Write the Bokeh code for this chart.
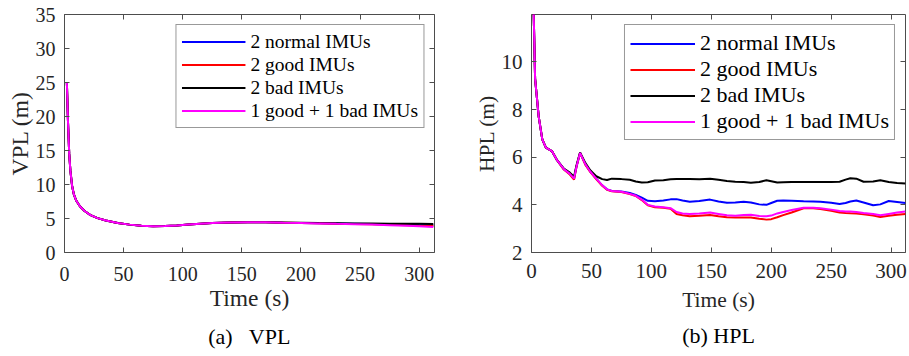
from bokeh.plotting import figure
from bokeh.models import Range1d, FixedTicker, LinearAxis, Title
from bokeh.layouts import row
from bokeh.embed import file_html
from bokeh.resources import INLINE

FONT = "Liberation Serif"

series_names = ["2 normal IMUs", "2 good IMUs", "2 bad IMUs", "1 good + 1 bad IMUs"]
series_colors = ["#0000ff", "#ff0000", "#000000", "#ff00ff"]

time_ticks = [0, 50, 100, 150, 200, 250, 300]
vpl_ticks = [0, 5, 10, 15, 20, 25, 30, 35]
hpl_ticks = [2, 4, 6, 8, 10]

# ---- VPL (m) ----
vpl_time = [2, 3, 4, 5, 6.5, 8, 10, 13, 17, 22, 28, 35, 45, 55, 65, 75, 85, 95,
            105, 115, 125, 140, 155, 170, 185, 200, 215, 230, 245, 260, 275, 290, 300, 312]
vpl_good_bad = [25, 19, 14.5, 12, 9.7, 8.5, 7.6, 6.8, 6.1, 5.5, 5.05, 4.7, 4.35, 4.1, 3.92, 3.85, 3.88, 3.97,
                4.1, 4.22, 4.33, 4.42, 4.45, 4.44, 4.38, 4.33, 4.28, 4.22, 4.17, 4.12, 4.02, 3.92, 3.85, 3.76]
vpl_normal = [25, 19, 14.5, 12, 9.7, 8.5, 7.6, 6.8, 6.1, 5.5, 5.05, 4.7, 4.35, 4.1, 3.92, 3.85, 3.88, 3.97,
              4.1, 4.22, 4.33, 4.42, 4.45, 4.44, 4.39, 4.35, 4.3, 4.26, 4.22, 4.18, 4.12, 4.07, 4.03, 4.0]
vpl_good = [25, 19, 14.5, 12, 9.7, 8.5, 7.6, 6.8, 6.1, 5.5, 5.05, 4.7, 4.35, 4.1, 3.92, 3.85, 3.88, 3.97,
            4.1, 4.22, 4.33, 4.42, 4.45, 4.44, 4.39, 4.34, 4.29, 4.24, 4.2, 4.15, 4.08, 4.0, 3.95, 3.9]
vpl_bad = [25, 19, 14.5, 12, 9.7, 8.5, 7.6, 6.8, 6.1, 5.5, 5.05, 4.7, 4.35, 4.1, 3.92, 3.85, 3.88, 3.97,
           4.1, 4.22, 4.33, 4.42, 4.45, 4.44, 4.4, 4.36, 4.32, 4.3, 4.28, 4.26, 4.24, 4.22, 4.21, 4.2]

# ---- HPL (m) ----
hpl_time = [1.5, 3, 6, 9, 12, 17, 21, 27, 32, 35.5, 37.5, 40.5, 45, 49, 54, 59, 63, 67, 75, 82, 87, 92, 97,
            103, 110, 116, 121, 126, 132, 140, 149, 156, 163, 170, 177, 183, 190, 196, 200, 205, 210, 217,
            227, 235, 241, 250, 257, 262, 266, 271, 277, 285, 291, 298, 305, 312]
hpl_normal = [12.8, 9.3, 7.7, 6.75, 6.4, 6.26, 5.9, 5.5, 5.3, 5.1, 5.6, 6.18, 5.7, 5.4, 5.1, 4.82, 4.65, 4.58,
              4.56, 4.5, 4.42, 4.3, 4.17, 4.15, 4.18, 4.23, 4.24, 4.18, 4.13, 4.16, 4.22, 4.14, 4.09, 4.1,
              4.13, 4.1, 4.02, 4.0, 4.08, 4.17, 4.18, 4.17, 4.15, 4.14, 4.13, 4.09, 4.04, 4.08, 4.14, 4.18,
              4.1, 3.98, 4.02, 4.16, 4.12, 4.08]
hpl_good = [12.8, 9.3, 7.7, 6.75, 6.4, 6.26, 5.9, 5.48, 5.27, 5.06, 5.6, 6.18, 5.68, 5.38, 5.08, 4.8, 4.63, 4.57,
            4.54, 4.45, 4.37, 4.2, 3.98, 3.9, 3.88, 3.84, 3.62, 3.56, 3.52, 3.54, 3.57, 3.52, 3.48, 3.47,
            3.47, 3.47, 3.42, 3.38, 3.4, 3.48, 3.57, 3.68, 3.86, 3.86, 3.83, 3.75, 3.68, 3.66, 3.65, 3.64,
            3.6, 3.55, 3.49, 3.54, 3.58, 3.62]
hpl_bad = [12.8, 9.3, 7.7, 6.75, 6.4, 6.26, 5.9, 5.52, 5.35, 5.18, 5.65, 6.2, 5.75, 5.45, 5.2, 5.08, 5.04, 5.1,
           5.08, 5.05, 4.98, 4.94, 4.95, 5.02, 5.03, 5.07, 5.09, 5.08, 5.08, 5.07, 5.1, 5.05, 5.0, 4.97,
           4.96, 4.93, 4.96, 5.03, 4.99, 4.94, 4.95, 4.96, 4.96, 4.96, 4.96, 4.96, 4.97, 5.06, 5.12, 5.1,
           4.97, 4.98, 5.03, 4.96, 4.92, 4.9]
hpl_good_bad = [12.8, 9.3, 7.7, 6.75, 6.4, 6.26, 5.9, 5.5, 5.3, 5.1, 5.6, 6.18, 5.7, 5.4, 5.1, 4.82, 4.65, 4.58,
                4.55, 4.46, 4.38, 4.22, 4.0, 3.93, 3.9, 3.86, 3.7, 3.64, 3.62, 3.64, 3.68, 3.62, 3.56, 3.54,
                3.57, 3.58, 3.53, 3.52, 3.55, 3.64, 3.7, 3.78, 3.88, 3.88, 3.86, 3.8, 3.74, 3.72, 3.72, 3.7,
                3.66, 3.62, 3.56, 3.62, 3.68, 3.72]

AX_COLOR = "#4d4d4d"
TXT_COLOR = "#262626"


def style_axis(ax, ticks, label_size, show_labels=True):
    ax.ticker = FixedTicker(ticks=ticks)
    ax.major_tick_in = 5
    ax.major_tick_out = 0
    ax.minor_tick_line_color = None
    ax.axis_line_color = None
    ax.major_tick_line_color = AX_COLOR
    ax.major_label_text_font = FONT
    if show_labels:
        ax.major_label_text_color = TXT_COLOR
        ax.major_label_text_font_size = label_size
    else:
        ax.major_label_text_color = None
        ax.major_label_text_font_size = "1px"
        ax.major_label_standoff = 0


def make_panel(width, x_end, y_start, y_end, yticks, time, ys, ylabel, caption,
               borders, tick_size, label_size, legend_size, row_h, glyph_w,
               tick_standoff_x, tick_standoff_y, xlabel_standoff, ylabel_standoff, cap_standoff):
    bl, br, bt, bb = borders
    p = figure(width=width, height=356, output_backend="svg", toolbar_location=None,
               x_range=Range1d(0, x_end), y_range=Range1d(y_start, y_end),
               min_border_left=bl, min_border_right=br, min_border_top=bt, min_border_bottom=bb,
               title=None)
    p.xgrid.visible = False
    p.ygrid.visible = False
    p.outline_line_color = AX_COLOR
    p.outline_line_width = 1
    p.background_fill_color = "white"
    p.border_fill_color = "white"

    style_axis(p.xaxis[0], time_ticks, tick_size)
    style_axis(p.yaxis[0], yticks, tick_size)
    p.xaxis[0].major_label_standoff = tick_standoff_x
    p.yaxis[0].major_label_standoff = tick_standoff_y
    p.xaxis[0].axis_label = "Time (s)"
    p.yaxis[0].axis_label = ylabel
    for ax, st in ((p.xaxis[0], xlabel_standoff), (p.yaxis[0], ylabel_standoff)):
        ax.axis_label_text_font = FONT
        ax.axis_label_text_font_style = "normal"
        ax.axis_label_text_font_size = label_size
        ax.axis_label_text_color = TXT_COLOR
        ax.axis_label_standoff = st

    top = LinearAxis()
    style_axis(top, time_ticks, tick_size, show_labels=False)
    p.add_layout(top, "above")
    right = LinearAxis()
    style_axis(right, yticks, tick_size, show_labels=False)
    p.add_layout(right, "right")

    for name, color, y in zip(series_names, series_colors, ys):
        p.line(time, y, line_color=color, line_width=2, legend_label=name)

    lg = p.legend[0]
    lg.location = "top_right"
    lg.margin = 10
    lg.padding = 5
    lg.spacing = 0
    lg.label_height = row_h
    lg.glyph_height = row_h
    lg.glyph_width = glyph_w
    lg.label_standoff = 5
    lg.label_text_font = FONT
    lg.label_text_font_size = legend_size
    lg.label_text_color = "black"
    lg.border_line_color = "#333333"
    lg.border_line_width = 1
    lg.background_fill_alpha = 1.0

    cap = Title(text=caption, align="center", text_font=FONT, text_font_size="22px",
                text_font_style="normal", text_color="black", standoff=cap_standoff)
    p.add_layout(cap, "below")
    return p


p1 = make_panel(459, 313, 0, 35, vpl_ticks, vpl_time,
                [vpl_normal, vpl_good, vpl_bad, vpl_good_bad], "VPL (m)", "(a)\u00a0\u00a0 VPL",
                (64, 25, 14, 103), "20px", "23.5px", "19.5px", 23, 64,
                14, 9, 1, 0, 16)
p2 = make_panel(450, 312, 2, 11.99, hpl_ticks, hpl_time,
                [hpl_normal, hpl_good, hpl_bad, hpl_good_bad], "HPL (m)", "(b) HPL",
                (72, 4, 14, 99), "21px", "21.5px", "22px", 25, 65,
                11, 9, 7, 0, 13)

layout = row(p1, p2)
open("out.html", "w").write(file_html(layout, INLINE))
